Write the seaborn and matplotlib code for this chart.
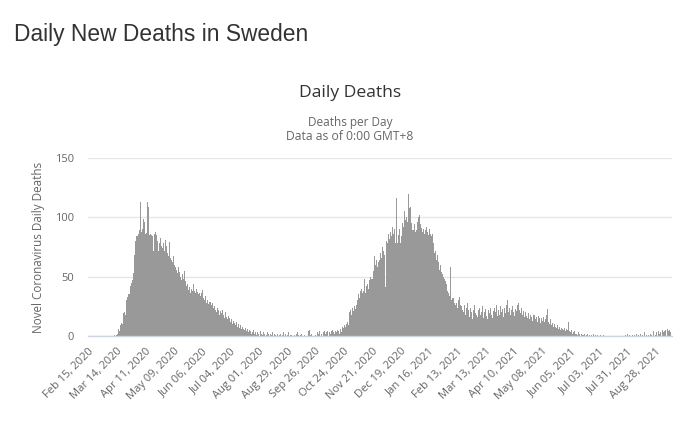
import matplotlib
matplotlib.use("Agg")
import matplotlib.pyplot as plt
import matplotlib.transforms as mtransforms
import seaborn as sns
import pandas as pd

# ---- data: daily deaths in Sweden (Feb 15 2020 onward) ----
pre_wave = [0] * 26 + [1, 0, 1, 2, 6, 4, 9, 11]
wave1 = [
    10, 19, 20, 18, 30, 33, 35,
    42, 45, 47, 53, 68, 80, 84,
    84, 86, 89, 113, 88, 90, 99,
    96, 86, 87, 113, 109, 85, 86,
    85, 84, 72, 86, 88, 85, 80,
    72, 78, 83, 76, 74, 78, 72,
    81, 76, 70, 67, 79, 66, 64,
    62, 67, 60, 58, 56, 53, 58,
    54, 50, 47, 52, 48, 55, 46,
    42, 44, 39, 41, 36, 40, 38,
    44, 38, 36, 40, 37, 35, 36,
    34, 36, 39, 32, 30, 34, 28,
    30, 27, 29, 26, 28, 24, 25,
    22, 20, 24, 22, 18, 21, 19,
    22, 18, 15, 20, 16, 14, 17,
    15, 12, 14, 10, 13, 11, 9,
    12, 8, 10, 7, 9, 6, 8,
    6, 5, 7, 4, 6, 3, 5,
]
summer2020 = [
    4, 2, 3, 5, 2, 3, 1,
    3, 2, 0, 4, 2, 1, 3,
    2, 0, 1, 3, 2, 0, 2,
    1, 3, 0, 2, 1, 0, 2,
    0, 1, 2, 0, 1, 3, 0,
    2, 0, 1, 3, 0, 1, 0,
    0, 1, 0, 2, 3, 1, 0,
    1, 2, 0, 0, 1, 0, 0,
    0, 4, 5, 1, 2, 0, 0,
    0, 1, 0, 3, 2, 4, 0,
    2, 0, 3, 4, 2, 3, 4,
    0, 3, 2, 4, 5, 3, 2,
    4, 3, 5, 4, 2, 6, 3,
]
wave2 = [
    8, 7, 9, 8, 10, 12, 9,
    20, 22, 18, 24, 21, 25, 23,
    26, 30, 35, 32, 38, 40, 36,
    38, 48, 36, 42, 44, 40, 47,
    50, 48, 55, 67, 60, 64, 58,
    62, 64, 70, 66, 75, 72, 68,
    41, 80, 78, 86, 82, 88, 84,
    92, 86, 90, 78, 116, 78, 85,
    90, 78, 84, 95, 92, 105, 98,
    100, 96, 120, 108, 109, 95, 89,
    89, 94, 88, 89, 96, 100, 102,
    94, 91, 88, 90, 86, 89, 92,
    88, 85, 90, 86, 84, 86, 78,
    70, 72, 64, 68, 62, 56, 60,
    54, 52, 50, 48, 46, 44, 38,
    36, 34, 58, 30, 32, 28, 26,
    28, 24, 30, 33, 26, 25, 22,
]
spring2021 = [
    20, 26, 18, 24, 28, 22, 16,
    24, 20, 14, 22, 26, 19, 18,
    16, 22, 24, 18, 20, 25, 15,
    20, 23, 17, 14, 22, 19, 24,
    18, 15, 21, 24, 20, 26, 17,
    22, 18, 25, 20, 23, 16, 24,
    19, 26, 30, 20, 24, 18, 22,
    25, 20, 17, 23, 21, 26, 28,
    22, 19, 24, 18, 21, 16, 20,
    17, 15, 19, 14, 18, 16, 13,
    18, 14, 16, 12, 17, 15, 11,
    15, 13, 16, 12, 14, 18, 23,
    12, 10, 14, 9, 11, 8, 10,
    8, 7, 9, 6, 8, 5, 7,
    6, 5, 7, 4, 6, 5, 12,
]
summer2021 = [
    4, 3, 5, 2, 3, 4, 2,
    2, 1, 3, 2, 0, 2, 1,
    1, 2, 0, 1, 2, 0, 1,
    0, 1, 0, 2, 0, 1, 0,
    1, 0, 0, 1, 0, 0, 1,
    0, 0, 0, 0, 0, 0, 0,
    0, 0, 0, 0, 0, 0, 0,
    0, 0, 0, 0, 0, 0, 1,
    0, 2, 0, 1, 0, 0, 1,
    0, 1, 0, 2, 0, 1, 0,
    2, 0, 1, 0, 3, 0, 1,
    0, 1, 0, 2, 1, 0, 4,
    0, 1, 3, 0, 4, 2, 3,
    0, 5, 3, 4, 5, 0, 6,
    4, 5, 3,
]
tick_labels = [
    "Feb 15, 2020", "Mar 14, 2020", "Apr 11, 2020", "May 09, 2020",
    "Jun 06, 2020", "Jul 04, 2020", "Aug 01, 2020", "Aug 29, 2020",
    "Sep 26, 2020", "Oct 24, 2020", "Nov 21, 2020", "Dec 19, 2020",
    "Jan 16, 2021", "Feb 13, 2021", "Mar 13, 2021", "Apr 10, 2021",
    "May 08, 2021", "Jun 05, 2021", "Jul 03, 2021", "Jul 31, 2021",
    "Aug 28, 2021",
]

deaths = pre_wave + wave1 + summer2020 + wave2 + spring2021 + summer2021
dates = pd.date_range("2020-02-15", periods=len(deaths)).strftime("%b %d, %Y")
df = pd.DataFrame({"date": dates, "deaths": deaths})

sns.set_theme(style="white")
plt.rcParams["font.family"] = ["Open Sans", "DejaVu Sans"]

fig = plt.figure(figsize=(7, 4.23), dpi=100)
ax = fig.add_axes([88 / 700, 1 - 336 / 423, 584 / 700, 178 / 423])

sns.barplot(data=df, x="date", y="deaths", color="#999999", saturation=1,
            width=1.0, linewidth=0, ax=ax)

ax.set_ylim(0, 150)
ax.set_xlim(-0.5, 576.3)
ax.set_yticks([0, 50, 100, 150])
ax.set_yticklabels(["0", "50", "100", "150"], color="#666666", fontsize=8)
ax.yaxis.grid(True, color="#e6e6e6", linewidth=1)
ax.set_axisbelow(True)
for s in ["top", "right", "left"]:
    ax.spines[s].set_visible(False)
ax.spines["bottom"].set_color("#ccd6eb")
ax.spines["bottom"].set_linewidth(1)

ax.set_xticks(list(range(0, 28 * len(tick_labels), 28)))
ax.set_xticklabels(tick_labels, rotation=45, ha="right", rotation_mode="anchor",
                   color="#666666", fontsize=8)
shift = mtransforms.ScaledTranslation(-0.06, 0, fig.dpi_scale_trans)
for lab in ax.get_xticklabels():
    lab.set_transform(lab.get_transform() + shift)
ax.tick_params(axis="x", length=0, pad=7)
ax.tick_params(axis="y", length=0, pad=10)
ax.set_xlabel("")
ax.set_ylabel("Novel Coronavirus Daily Deaths", color="#666666", fontsize=8.4, labelpad=7)

fig.text(14 / 700, 1 - 35 / 423, "Daily New Deaths in Sweden", fontsize=16.4,
         color="#333333", va="center", ha="left",
         family=["Liberation Sans", "DejaVu Sans"])
fig.text(350 / 700, 1 - 93 / 423, "Daily Deaths", fontsize=12.6,
         color="#333333", va="center", ha="center")
fig.text(350 / 700, 1 - 122.5 / 423, "Deaths per Day", fontsize=8.5,
         color="#666666", va="center", ha="center")
fig.text(350 / 700, 1 - 136 / 423, "Data as of 0:00 GMT+8", fontsize=8.7,
         color="#666666", va="center", ha="center")

fig.savefig("out.png", dpi=100)
